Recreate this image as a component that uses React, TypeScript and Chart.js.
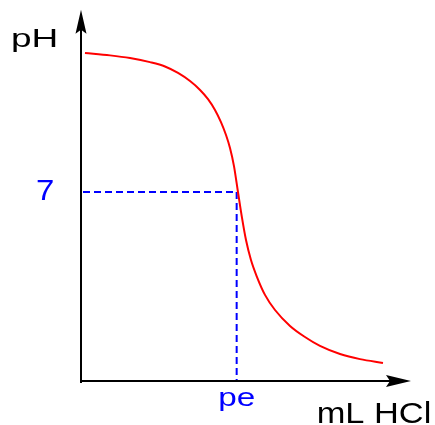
import React, { useEffect, useRef } from "react";
import { Chart, registerables } from "chart.js";

Chart.register(...registerables);

// ---- Data ----
const volumeML = [0.64, 4.66, 7.87, 11.08, 13.49, 15.58, 17.51, 19.12, 20.4, 21.52, 22.48, 23.29, 23.93, 24.57, 25.21, 25.86, 26.5, 27.3, 28.27, 29.55, 31.16, 33.57, 35.97, 38.38, 41.6, 44.81, 48.5];
const pHValues = [12.15, 12.06, 11.96, 11.81, 11.65, 11.41, 11.11, 10.78, 10.44, 10.04, 9.59, 9.11, 8.63, 7.96, 7.0, 6.04, 5.22, 4.48, 3.85, 3.19, 2.63, 2.04, 1.63, 1.3, 1.0, 0.81, 0.67];

const xAxisTitle = "mL HCl";
const yAxisTitle = "pH";
const equivalenceVolume = 25;
const equivalenceLabel = "pe";
const neutralPH = 7;
const neutralLabel = "7";

const X_MAX = 53;
const Y_MAX = 14;
const Y_ARROW_END = 13.75;

const BLUE = "#0000ff";
const RED = "#ff0000";
const FONT = '"Liberation Sans", Arial, sans-serif';

function stretchedText(
  ctx: CanvasRenderingContext2D,
  text: string,
  x: number,
  y: number,
  size: number,
  sx: number,
  color: string,
  align: CanvasTextAlign
) {
  ctx.save();
  ctx.font = `${size}px ${FONT}`;
  ctx.fillStyle = color;
  ctx.textAlign = align;
  ctx.textBaseline = "alphabetic";
  ctx.translate(x, y);
  ctx.scale(sx, 1);
  ctx.fillText(text, 0, 0);
  ctx.restore();
}

function arrowHead(
  ctx: CanvasRenderingContext2D,
  tx: number,
  ty: number,
  dx: number,
  dy: number,
  len: number,
  half: number,
  notch: number
) {
  const bx = tx - dx * len;
  const by = ty - dy * len;
  const px = -dy;
  const py = dx;
  ctx.beginPath();
  ctx.moveTo(tx, ty);
  ctx.lineTo(bx + px * half, by + py * half);
  ctx.lineTo(bx + dx * notch, by + dy * notch);
  ctx.lineTo(bx - px * half, by - py * half);
  ctx.closePath();
  ctx.fill();
}

const guidesPlugin = {
  id: "titrationGuides",
  beforeDatasetsDraw(chart: any) {
    const { ctx } = chart;
    const xs = chart.scales.x;
    const ys = chart.scales.y;
    const pX = xs.getPixelForValue(equivalenceVolume);
    const pY = ys.getPixelForValue(neutralPH);
    const x0 = xs.getPixelForValue(0);
    const y0 = ys.getPixelForValue(0);
    ctx.save();
    ctx.strokeStyle = BLUE;
    ctx.lineWidth = 2;
    ctx.setLineDash([7, 4]);
    ctx.beginPath();
    ctx.moveTo(x0 + 2, pY);
    ctx.lineTo(pX, pY);
    ctx.stroke();
    ctx.beginPath();
    ctx.moveTo(pX, pY);
    ctx.lineTo(pX, y0);
    ctx.stroke();
    ctx.restore();
  },
  afterDraw(chart: any) {
    const { ctx } = chart;
    const xs = chart.scales.x;
    const ys = chart.scales.y;
    const x0 = xs.getPixelForValue(0);
    const y0 = ys.getPixelForValue(0);
    const xTip = xs.getPixelForValue(X_MAX);
    const yTip = ys.getPixelForValue(Y_ARROW_END);
    const pX = xs.getPixelForValue(equivalenceVolume);
    const pY = ys.getPixelForValue(neutralPH);

    ctx.save();
    ctx.setLineDash([]);
    ctx.strokeStyle = "#000";
    ctx.fillStyle = "#000";
    ctx.lineWidth = 2;
    // y axis
    ctx.beginPath();
    ctx.moveTo(x0, y0 + 2);
    ctx.lineTo(x0, yTip + 12);
    ctx.stroke();
    // x axis
    ctx.beginPath();
    ctx.moveTo(x0 - 1, y0);
    ctx.lineTo(xTip - 12, y0);
    ctx.stroke();
    arrowHead(ctx, x0, yTip, 0, -1, 24, 5.5, 4);
    arrowHead(ctx, xTip, y0, 1, 0, 25, 6, 4);
    ctx.restore();

    stretchedText(ctx, yAxisTitle, 10.9, 46.7, 25.5, 1.45, "#000", "left");
    stretchedText(ctx, neutralLabel, x0 - 45, pY + 8, 30, 1.1, BLUE, "left");
    stretchedText(ctx, equivalenceLabel, pX, y0 + 24.5, 25.8, 1.29, BLUE, "center");
    stretchedText(ctx, xAxisTitle, 316.7, 423.3, 30, 1.146, "#000", "left");
  },
};

export default function App() {
  const canvasRef = useRef<HTMLCanvasElement | null>(null);

  useEffect(() => {
    if (!canvasRef.current) return;
    const points = volumeML.map((v, i) => ({ x: v, y: pHValues[i] }));
    const chart = new Chart(canvasRef.current, {
      type: "line",
      data: {
        datasets: [
          {
            data: points,
            borderColor: RED,
            borderWidth: 2,
            pointRadius: 0,
            fill: false,
            cubicInterpolationMode: "monotone",
          },
        ],
      },
      options: {
        animation: false,
        responsive: false,
        devicePixelRatio: 1,
        layout: { padding: { left: 81, top: 3, right: 24, bottom: 44 } },
        scales: {
          x: { type: "linear", min: 0, max: X_MAX, display: false },
          y: { type: "linear", min: 0, max: Y_MAX, display: false },
        },
        plugins: {
          legend: { display: false },
          tooltip: { enabled: false },
        },
      },
      plugins: [guidesPlugin],
    } as any);
    return () => chart.destroy();
  }, []);

  return (
    <div style={{ position: "fixed", left: 0, top: 0, width: 435, height: 425, background: "#fff" }}>
      <canvas ref={canvasRef} width={435} height={425} style={{ display: "block" }} />
    </div>
  );
}
